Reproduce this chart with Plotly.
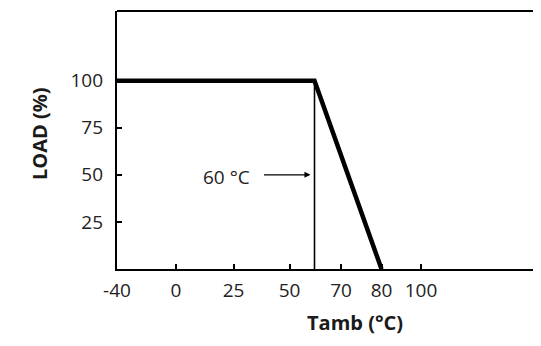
import numpy as np
import plotly.graph_objects as go

# ---- data ----
temp = [-40, 60, 80]          # ambient temperature (°C)
load = [100, 100, 0]          # load (%)
marker_temp = 60              # derating start marker
marker_label = "60 °C"
x_tick_labels = [-40, 0, 25, 50, 70, 80, 100]
y_tick_vals = [25, 50, 75, 100]

# ---- schematic (non-linear) temperature axis, as drawn in the reference ----
SCALE_T = [-40, 0, 25, 50, 60, 70, 80, 100, 160]
SCALE_P = [0, 59, 116.5, 172.5, 197.5, 224, 264.5, 304, 424]


def sx(t):
    return np.interp(np.asarray(t, dtype=float), SCALE_T, SCALE_P)


FONT = "Open Sans"
OFF = 8  # default body margin of the page
W, H = 541 - 2 * OFF, 346 - 2 * OFF
L, T = 117 - OFF, 11 - OFF
B = H - (269 - OFF)
R = 0
XMAX = (W - L - R) * 424 / (541 - 117)

fig = go.Figure()

fig.add_trace(go.Scatter(x=sx(temp), y=load, mode="lines",
                         line=dict(color="black", width=4.5),
                         hoverinfo="skip", showlegend=False))
fig.add_trace(go.Scatter(x=sx([marker_temp, marker_temp]), y=[0, 100], mode="lines",
                         line=dict(color="black", width=1.6),
                         hoverinfo="skip", showlegend=False))

fig.add_annotation(x=float(sx(marker_temp)) - 4, y=50, ax=float(sx(marker_temp)) - 52, ay=50,
                   xref="x", yref="y", axref="x", ayref="y", text="",
                   showarrow=True, arrowhead=2, arrowsize=1.1, arrowwidth=1.1,
                   arrowcolor="black")
fig.add_annotation(x=109, y=50, xref="x", yref="y", text=marker_label, showarrow=False,
                   yshift=-2, font=dict(family=FONT, size=19, color="#222"))


def to_paper(px, py):
    fx, fy = px - OFF, py - OFF
    return (fx - L) / (W - L - R), (H - B - fy) / (H - T - B)


tx, ty = to_paper(355, 338)
fig.add_annotation(x=tx, y=ty, xref="paper", yref="paper", text="<b>Tamb (°C)</b>",
                   xanchor="center", yanchor="bottom",
                   showarrow=False, font=dict(family=FONT, size=20, color="#1a1a1a"))
lx, ly = to_paper(40, 134)
fig.add_annotation(x=lx, y=ly, xref="paper", yref="paper", text="<b>LOAD (%)</b>",
                   xanchor="center", yanchor="middle",
                   textangle=-90, showarrow=False,
                   font=dict(family=FONT, size=20, color="#1a1a1a"))

# frame is open on the right: mask the right edge, then draw the top border
fig.add_shape(type="rect", xref="paper", yref="paper", x0=0.99, x1=1.02, y0=0.015, y1=0.985,
              line=dict(width=0), fillcolor="white", layer="above")
fig.add_shape(type="line", xref="paper", yref="paper", x0=0, x1=1.02, y0=1, y1=1,
              line=dict(color="black", width=2.2), layer="above")

fig.update_layout(
    width=W, height=H,
    margin=dict(l=L, r=R, t=T, b=B, pad=0),
    paper_bgcolor="white", plot_bgcolor="white",
    font=dict(family=FONT, size=19, color="#222"),
    xaxis=dict(range=[0, XMAX], tickvals=sx(x_tick_labels).tolist(),
               ticktext=[str(v) for v in x_tick_labels],
               ticks="inside", ticklen=5, tickwidth=2, tickcolor="black",
               showline=True, linewidth=2.2, linecolor="black", mirror=False,
               showgrid=False, zeroline=False, tickfont=dict(size=19, color="#222"),
               ticklabelstandoff=3),
    yaxis=dict(range=[0, 137], tickvals=y_tick_vals,
               ticks="inside", ticklen=5, tickwidth=2, tickcolor="black",
               showline=True, linewidth=2.2, linecolor="black", mirror=False,
               showgrid=False, zeroline=False, tickfont=dict(size=19, color="#222"),
               ticklabelstandoff=8),
)

fig.write_html("out.html")
